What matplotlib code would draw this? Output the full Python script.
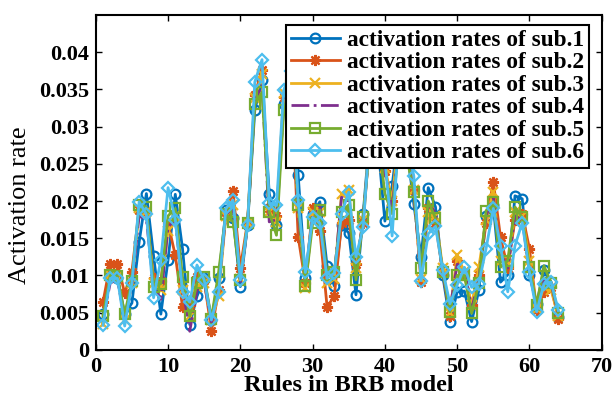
import numpy as np
import matplotlib.pyplot as plt

plt.rcParams['font.family'] = ['Liberation Serif', 'DejaVu Serif']

rules = np.arange(1, 65)

sub1 = [0.0048, 0.0098, 0.0097, 0.0048, 0.0063, 0.0145, 0.0210, 0.0126, 0.0048, 0.0121,
        0.0209, 0.0136, 0.0034, 0.0072, 0.0096, 0.0040, 0.0096, 0.0188, 0.0177, 0.0085,
        0.0168, 0.0322, 0.0363, 0.0210, 0.0168, 0.0331, 0.0387, 0.0235, 0.0096, 0.0183,
        0.0199, 0.0113, 0.0086, 0.0168, 0.0157, 0.0074, 0.0183, 0.0300, 0.0280, 0.0173,
        0.0220, 0.0300, 0.0275, 0.0196, 0.0125, 0.0218, 0.0192, 0.0100, 0.0038, 0.0078,
        0.0079, 0.0038, 0.0080, 0.0180, 0.0194, 0.0091, 0.0101, 0.0207, 0.0203, 0.0100,
        0.0062, 0.0107, 0.0091, 0.0044]
sub2 = [0.0064, 0.0116, 0.0116, 0.0076, 0.0105, 0.0188, 0.0185, 0.0096, 0.0092, 0.0170,
        0.0127, 0.0058, 0.0060, 0.0098, 0.0094, 0.0025, 0.0080, 0.0185, 0.0213, 0.0110,
        0.0172, 0.0343, 0.0376, 0.0190, 0.0180, 0.0340, 0.0370, 0.0152, 0.0090, 0.0191,
        0.0160, 0.0058, 0.0072, 0.0170, 0.0175, 0.0115, 0.0170, 0.0295, 0.0275, 0.0240,
        0.0200, 0.0290, 0.0270, 0.0215, 0.0091, 0.0190, 0.0170, 0.0105, 0.0046, 0.0120,
        0.0100, 0.0060, 0.0100, 0.0170, 0.0226, 0.0151, 0.0110, 0.0175, 0.0183, 0.0136,
        0.0053, 0.0078, 0.0085, 0.0042]
sub3 = [0.0035, 0.0100, 0.0098, 0.0040, 0.0090, 0.0190, 0.0185, 0.0090, 0.0080, 0.0160,
        0.0180, 0.0080, 0.0045, 0.0085, 0.0090, 0.0040, 0.0073, 0.0180, 0.0195, 0.0095,
        0.0170, 0.0338, 0.0370, 0.0185, 0.0172, 0.0345, 0.0365, 0.0190, 0.0083, 0.0185,
        0.0185, 0.0090, 0.0095, 0.0210, 0.0215, 0.0110, 0.0175, 0.0300, 0.0280, 0.0245,
        0.0200, 0.0295, 0.0265, 0.0215, 0.0095, 0.0185, 0.0180, 0.0110, 0.0050, 0.0127,
        0.0105, 0.0060, 0.0111, 0.0175, 0.0212, 0.0120, 0.0115, 0.0185, 0.0180, 0.0120,
        0.0055, 0.0085, 0.0080, 0.0045]
sub4 = [0.0040, 0.0090, 0.0094, 0.0042, 0.0088, 0.0180, 0.0175, 0.0085, 0.0068, 0.0165,
        0.0175, 0.0085, 0.0025, 0.0080, 0.0092, 0.0035, 0.0085, 0.0182, 0.0190, 0.0090,
        0.0168, 0.0335, 0.0355, 0.0172, 0.0175, 0.0330, 0.0360, 0.0185, 0.0088, 0.0180,
        0.0195, 0.0095, 0.0100, 0.0205, 0.0200, 0.0105, 0.0178, 0.0290, 0.0285, 0.0240,
        0.0190, 0.0285, 0.0270, 0.0210, 0.0100, 0.0195, 0.0185, 0.0100, 0.0055, 0.0115,
        0.0110, 0.0055, 0.0095, 0.0180, 0.0205, 0.0130, 0.0110, 0.0180, 0.0175, 0.0105,
        0.0058, 0.0095, 0.0088, 0.0048]
sub5 = [0.0045, 0.0100, 0.0099, 0.0048, 0.0093, 0.0195, 0.0192, 0.0085, 0.0089, 0.0180,
        0.0190, 0.0098, 0.0045, 0.0090, 0.0098, 0.0042, 0.0105, 0.0183, 0.0172, 0.0094,
        0.0170, 0.0330, 0.0346, 0.0185, 0.0154, 0.0322, 0.0355, 0.0195, 0.0086, 0.0170,
        0.0188, 0.0100, 0.0105, 0.0185, 0.0195, 0.0094, 0.0179, 0.0285, 0.0290, 0.0210,
        0.0183, 0.0280, 0.0260, 0.0212, 0.0110, 0.0200, 0.0177, 0.0105, 0.0051, 0.0100,
        0.0100, 0.0049, 0.0090, 0.0187, 0.0199, 0.0111, 0.0120, 0.0192, 0.0178, 0.0111,
        0.0060, 0.0113, 0.0090, 0.0050]
sub6 = [0.0033, 0.0096, 0.0096, 0.0032, 0.0090, 0.0199, 0.0182, 0.0070, 0.0121, 0.0218,
        0.0175, 0.0078, 0.0064, 0.0114, 0.0094, 0.0040, 0.0078, 0.0190, 0.0201, 0.0094,
        0.0168, 0.0360, 0.0390, 0.0197, 0.0194, 0.0349, 0.0375, 0.0201, 0.0104, 0.0178,
        0.0170, 0.0096, 0.0103, 0.0183, 0.0212, 0.0125, 0.0165, 0.0305, 0.0270, 0.0255,
        0.0153, 0.0300, 0.0280, 0.0234, 0.0093, 0.0156, 0.0166, 0.0107, 0.0062, 0.0087,
        0.0111, 0.0084, 0.0089, 0.0136, 0.0190, 0.0140, 0.0078, 0.0140, 0.0171, 0.0104,
        0.0051, 0.0089, 0.0091, 0.0053]

series = [sub1, sub2, sub3, sub4, sub5, sub6]
labels = ['activation rates of sub.%d' % k for k in range(1, 7)]
colors = ['#0072BD', '#D95319', '#EDB120', '#7E2F8E', '#77AC30', '#4DBEEE']
# (8, 2, 0) is an eight-spoke asterisk
markers = ['o', (8, 2, 0), 'x', None, 's', 'D']
sizes = [7, 8, 7, 7, 6.5, 6.5]
styles = ['-', '-', '-', '-.', '-', '-']

fig = plt.figure(figsize=(6.14, 4.04), dpi=100)
ax = fig.add_axes([0.156, 0.134, 0.824, 0.829])

for y, lab, c, m, ms, ls in zip(series, labels, colors, markers, sizes, styles):
    ax.plot(rules, y, ls, color=c, marker=m, markersize=ms, markeredgewidth=1.6,
            markerfacecolor='none', linewidth=2, label=lab)

ax.set_xlim(0, 70)
ax.set_ylim(0, 0.045)
ax.set_xticks(np.arange(0, 71, 10))
ax.set_yticks(np.arange(0, 0.0401, 0.005))
ax.set_yticklabels(['0', '0.005', '0.01', '0.015', '0.02', '0.025', '0.03', '0.035', '0.04'])
ax.tick_params(direction='in', top=True, right=True, length=4, width=1,
               labelsize=16, pad=5)
for t in ax.get_xticklabels() + ax.get_yticklabels():
    t.set_fontweight('bold')
for s in ax.spines.values():
    s.set_linewidth(1.5)

ax.set_xlabel('Rules in BRB model', fontsize=17.5, fontweight='bold', labelpad=-1)
ax.set_ylabel('Activation rate', fontsize=19)
ax.yaxis.set_label_coords(-0.128, 0.433)

leg = ax.legend(loc='upper right', bbox_to_anchor=(0.974, 0.97), fancybox=False,
                edgecolor='black', framealpha=1, prop={'weight': 'bold', 'size': 16.8},
                handlelength=2.1, labelspacing=0.05, borderpad=0.2, handletextpad=0.3,
                borderaxespad=0)
leg.get_frame().set_linewidth(1.5)

fig.savefig('out.png', dpi=100)
